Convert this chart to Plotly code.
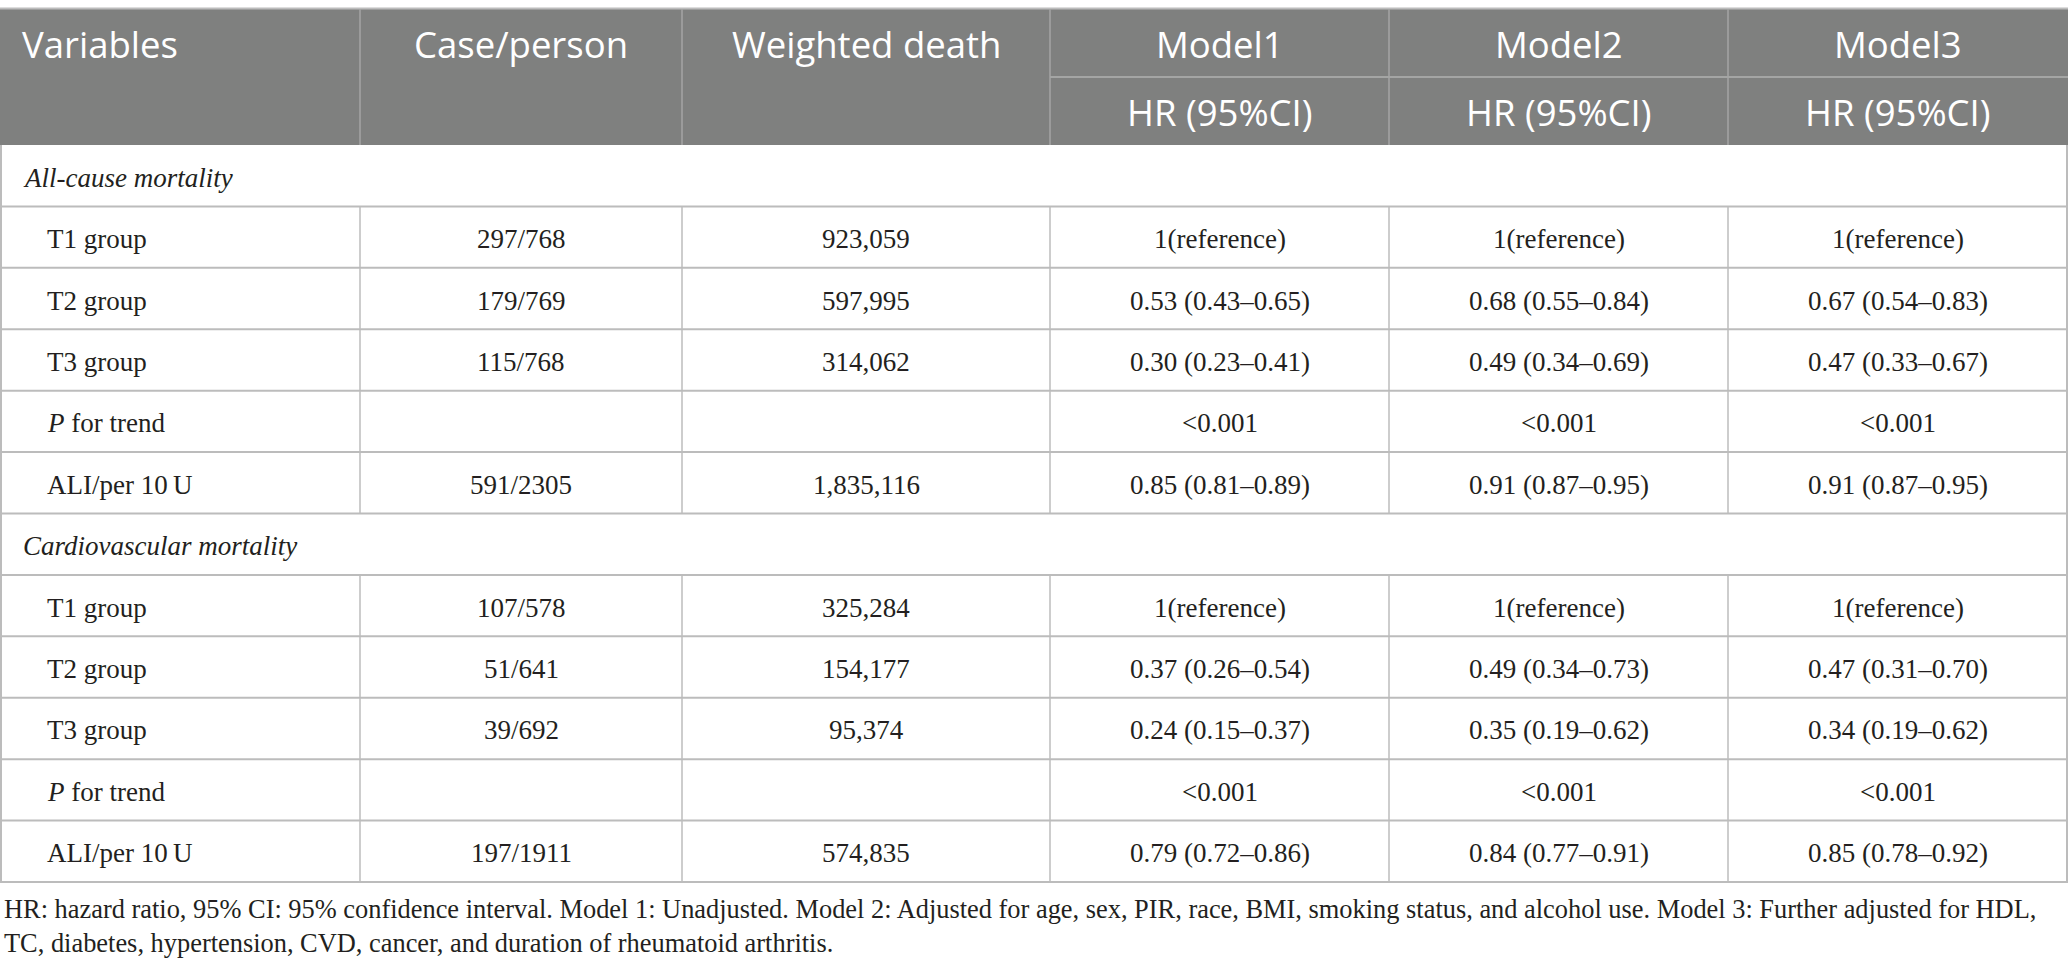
import plotly.graph_objects as go

W, H = 2068, 976

# ---------------- data ----------------
header_top = ["Variables", "Case/person", "Weighted death", "Model1", "Model2", "Model3"]
header_sub = ["", "", "", "HR (95%CI)", "HR (95%CI)", "HR (95%CI)"]

sections = ["All-cause mortality", "Cardiovascular mortality"]
variables = ["T1 group", "T2 group", "T3 group", "<i>P</i> for trend", "ALI/per 10\u2009U"]

case_all = ["297/768", "179/769", "115/768", "", "591/2305"]
death_all = ["923,059", "597,995", "314,062", "", "1,835,116"]
m1_all = ["1(reference)", "0.53 (0.43–0.65)", "0.30 (0.23–0.41)", "<0.001", "0.85 (0.81–0.89)"]
m2_all = ["1(reference)", "0.68 (0.55–0.84)", "0.49 (0.34–0.69)", "<0.001", "0.91 (0.87–0.95)"]
m3_all = ["1(reference)", "0.67 (0.54–0.83)", "0.47 (0.33–0.67)", "<0.001", "0.91 (0.87–0.95)"]

case_cvd = ["107/578", "51/641", "39/692", "", "197/1911"]
death_cvd = ["325,284", "154,177", "95,374", "", "574,835"]
m1_cvd = ["1(reference)", "0.37 (0.26–0.54)", "0.24 (0.15–0.37)", "<0.001", "0.79 (0.72–0.86)"]
m2_cvd = ["1(reference)", "0.49 (0.34–0.73)", "0.35 (0.19–0.62)", "<0.001", "0.84 (0.77–0.91)"]
m3_cvd = ["1(reference)", "0.47 (0.31–0.70)", "0.34 (0.19–0.62)", "<0.001", "0.85 (0.78–0.92)"]

footnote = ("HR: hazard ratio, 95% CI: 95% confidence interval. Model 1: Unadjusted. Model 2: Adjusted for age, sex, PIR, race, BMI, "
            "smoking status, and alcohol use. Model 3: Further adjusted for HDL,<br>"
            "TC, diabetes, hypertension, CVD, cancer, and duration of rheumatoid arthritis.")

# ---------------- layout geometry ----------------
col_edges = [0, 360, 682, 1050, 1389, 1728, 2068]
head_top, head_mid, head_bot = 9, 77, 145
body_bot = 882
n_rows = 12
row_h = (body_bot - head_bot) / n_rows

HEAD_FILL = "#7f807f"
HEAD_LINE = "#a4a5a4"
GRID = "#bcbcbc"
TXT = "#231f20"
SANS = "Open Sans"
SERIF = "Liberation Serif"
BODY_SIZE = 27
HEAD_SIZE = 36.5

groups = [
    (sections[0], [case_all, death_all, m1_all, m2_all, m3_all]),
    (sections[1], [case_cvd, death_cvd, m1_cvd, m2_cvd, m3_cvd]),
]

rows = []
for sec, cols in groups:
    rows.append(("section", [sec]))
    for i, v in enumerate(variables):
        rows.append(("data", [v] + [c[i] for c in cols]))

fig = go.Figure()
shapes = []
annotations = []

# header background
shapes.append(dict(type="rect", xref="x", yref="y", x0=col_edges[0], x1=col_edges[-1],
                   y0=head_top, y1=head_bot, fillcolor=HEAD_FILL, line_width=0, layer="below"))
# top border
shapes.append(dict(type="line", xref="x", yref="y", x0=0, x1=W, y0=head_top - 0.5, y1=head_top - 0.5,
                   line=dict(color=GRID, width=2)))
# header vertical lines
for e in col_edges[1:-1]:
    shapes.append(dict(type="line", xref="x", yref="y", x0=e, x1=e, y0=head_top, y1=head_bot,
                       line=dict(color=HEAD_LINE, width=1.5)))
# header sub-split under model columns
shapes.append(dict(type="line", xref="x", yref="y", x0=col_edges[3], x1=col_edges[-1],
                   y0=head_mid, y1=head_mid, line=dict(color=HEAD_LINE, width=2)))

# header text
for j, t in enumerate(header_top):
    if j == 0:
        x, xa = col_edges[0] + 20, "left"
    else:
        x, xa = (col_edges[j] + col_edges[j + 1]) / 2, "center"
    annotations.append(dict(x=x, y=(head_top + head_mid) / 2 + 1, xref="x", yref="y", text=t, showarrow=False,
                            xanchor=xa, yanchor="middle", font=dict(family=SANS, size=HEAD_SIZE, color="white")))
for j, t in enumerate(header_sub):
    if not t:
        continue
    x = (col_edges[j] + col_edges[j + 1]) / 2
    annotations.append(dict(x=x, y=(head_mid + head_bot) / 2 + 1, xref="x", yref="y", text=t, showarrow=False,
                            xanchor="center", yanchor="middle", font=dict(family=SANS, size=HEAD_SIZE, color="white")))

# body
for r, (kind, cells) in enumerate(rows):
    y0 = head_bot + r * row_h
    y1 = y0 + row_h
    yc = (y0 + y1) / 2 + 2
    shapes.append(dict(type="line", xref="x", yref="y", x0=0, x1=W, y0=y1, y1=y1,
                       line=dict(color=GRID, width=2)))
    for e in (col_edges[0] + 1, col_edges[-1] - 1):
        shapes.append(dict(type="line", xref="x", yref="y", x0=e, x1=e, y0=y0, y1=y1,
                           line=dict(color=GRID, width=2)))
    if kind == "section":
        annotations.append(dict(x=col_edges[0] + 21, y=yc, xref="x", yref="y",
                                text="<i>" + cells[0] + "</i>", showarrow=False,
                                xanchor="left", yanchor="middle",
                                font=dict(family=SERIF, size=BODY_SIZE, color=TXT)))
        continue
    for e in col_edges[1:-1]:
        shapes.append(dict(type="line", xref="x", yref="y", x0=e, x1=e, y0=y0, y1=y1,
                           line=dict(color=GRID, width=1.5)))
    for j, t in enumerate(cells):
        if not t:
            continue
        if j == 0:
            x, xa = col_edges[0] + 45, "left"
        else:
            x, xa = (col_edges[j] + col_edges[j + 1]) / 2, "center"
        annotations.append(dict(x=x, y=yc, xref="x", yref="y", text=t, showarrow=False,
                                xanchor=xa, yanchor="middle",
                                font=dict(family=SERIF, size=BODY_SIZE, color=TXT)))

# footnote
annotations.append(dict(x=2, y=body_bot + 10, xref="x", yref="y", text=footnote, showarrow=False,
                        xanchor="left", yanchor="top", align="left",
                        font=dict(family=SERIF, size=26.4, color=TXT)))

fig.update_layout(
    width=W, height=H,
    margin=dict(l=0, r=0, t=0, b=0),
    paper_bgcolor="white", plot_bgcolor="white",
    xaxis=dict(range=[0, W], visible=False, fixedrange=True),
    yaxis=dict(range=[H, 0], visible=False, fixedrange=True),
    shapes=shapes, annotations=annotations,
    showlegend=False,
)

fig.write_html("out.html", config={"displayModeBar": False},
               post_script="document.body.style.margin='0';document.body.style.overflow='hidden';")
